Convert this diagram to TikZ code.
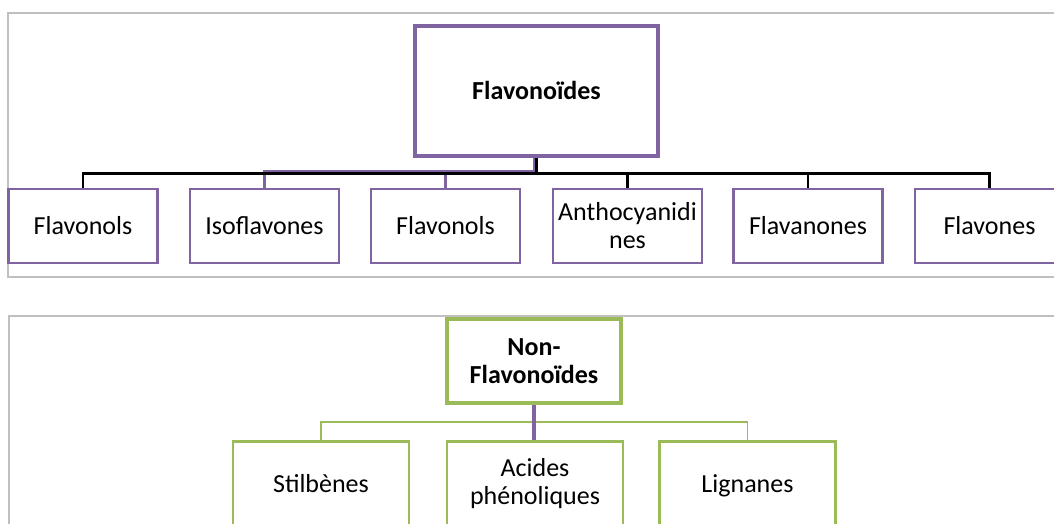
\documentclass[tikz,border=0pt]{standalone}
\usepackage{fontspec}
\setmainfont{Carlito}
\definecolor{smpurple}{HTML}{8064A2}
\definecolor{smgreen}{HTML}{9BBB59}
\definecolor{framegray}{HTML}{C0C0C0}
\begin{document}
\begin{tikzpicture}[x=0.75pt,y=-0.75pt,
  frame/.style={draw=framegray,line width={1.8*0.75pt}},
  txt/.style={font=\fontsize{19.5}{21}\selectfont,align=center,inner sep=0pt},
  one/.style={text height=17.6pt,text depth=5pt},
  rootp/.style={txt,draw=smpurple,line width={4*0.75pt},fill=white,font=\fontsize{19.5}{21}\selectfont\bfseries,
     minimum width={243*0.75pt},minimum height={130*0.75pt}},
  childp/.style={txt,draw=smpurple,line width={2.2*0.75pt},fill=white,
     minimum width={149*0.75pt},minimum height={74*0.75pt}},
  rootg/.style={txt,draw=smgreen,line width={4.5*0.75pt},fill=white,font=\fontsize{19.5}{21}\selectfont\bfseries,
     minimum width={174*0.75pt},minimum height={84*0.75pt}},
  childg/.style={txt,draw=smgreen,line width={2.5*0.75pt},fill=white,
     minimum width={176*0.75pt},minimum height={85*0.75pt}},
  blk/.style={draw=black,line width={2.2*0.75pt}},
  pur/.style={draw=smpurple,line width={3.8*0.75pt}},
  grn/.style={draw=smgreen,line width={1.8*0.75pt}}
]
\useasboundingbox (0,0) rectangle (1054,524);
\clip (0,0) rectangle (1054,524);
\fill[white] (0,0) rectangle (1054,524);

% frames
\draw[frame] (8,13) rectangle (1070,277);
\draw[frame] (9,316) rectangle (1070,540);

% top tree
\coordinate (bar) at (0,173.5);
\coordinate (pbar) at (0,171.5);
\node[rootp,one] (root) at (536.5,91.5) {Flavono\"ides};
\node[childp,one] (c1) at (83,226) {Flavonols};
\node[childp,one] (c2) at (264.5,226) {Isoflavones};
\node[childp,one] (c3) at (445.5,226) {Flavonols};
\node[childp] (c4) at (627.5,226) {Anthocyanidi\\nes};
\node[childp,one] (c5) at (808,226) {Flavanones};
\node[childp,one] (c6) at (989.5,226) {Flavones};

\draw[pur] (c2.north) -- (c2.north |- pbar) -- ([xshift=-1.5*0.75pt]root.south |- pbar) -- ([xshift=-1.5*0.75pt]root.south);
\draw[pur] (c3.north) -- (c3.north |- bar);
\draw[blk] (root.south) -- (root.south |- bar);
\draw[blk] (c1.north) -- (c1.north |- bar) -- (c6.north |- bar) -- (c6.north);
\draw[blk] (c4.north) -- (c4.north |- bar);
\draw[blk] (c5.north) -- (c5.north |- bar);
\node[rootp,one] at (root) {Flavono\"ides};
\node[childp,one] at (c1) {Flavonols};
\node[childp,one] at (c2) {Isoflavones};
\node[childp,one] at (c3) {Flavonols};
\node[childp] at (c4) {Anthocyanidi\\nes};
\node[childp,one] at (c5) {Flavanones};
\node[childp,one] at (c6) {Flavones};

% bottom tree
\coordinate (gbar) at (0,422);
\node[rootg] (nroot) at (534,361) {Non-\\Flavono\"ides};
\node[childg,one] (s1) at (321,484) {Stilb\`enes};
\node[childg] (s2) at (535,484) {Acides\\ph\'enoliques};
\node[childg,one] (s3) at (747.5,484) {Lignanes};
\draw[grn] (s1.north) -- (s1.north |- gbar) -- (s3.north |- gbar) -- (s3.north);
\draw[grn] ([xshift=1.5*0.75pt]nroot.south) -- ([xshift=1.5*0.75pt]nroot.south |- gbar);
\draw[pur] (nroot.south) -- (s2.north -| nroot.south);
\node[rootg] at (nroot) {Non-\\Flavono\"ides};
\node[childg,one] at (s1) {Stilb\`enes};
\node[childg] at (s2) {Acides\\ph\'enoliques};
\node[childg,one] at (s3) {Lignanes};
\end{tikzpicture}
\end{document}
